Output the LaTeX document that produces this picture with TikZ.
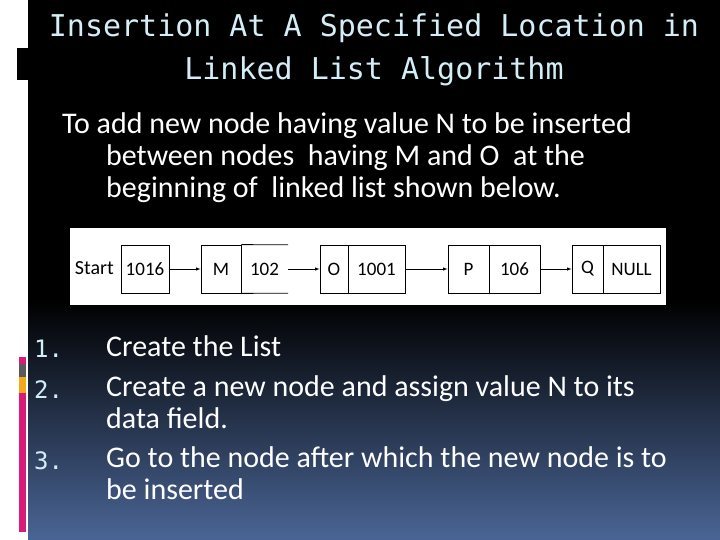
\documentclass[tikz,border=0pt]{standalone}
\usepackage{fontspec}
\setmainfont{Carlito}
\newfontfamily\titlefont{DejaVu Sans Mono}
\usetikzlibrary{positioning}
\definecolor{slideblue}{HTML}{4A6595}
\definecolor{titleblue}{HTML}{D4EEF7}
\definecolor{barpink}{HTML}{D81B78}
\definecolor{bargray}{HTML}{5A5A5A}
\definecolor{barorange}{HTML}{F4A81C}
\begin{document}
\begin{tikzpicture}[x=1pt, y=-1pt,
    cell/.style={draw, thick, minimum height=48pt, inner sep=0pt, font=\fontsize{19}{19}\selectfont},
    body/.style={text=white, font=\fontsize{30}{32}\selectfont, align=left, anchor=north west, inner sep=0pt},
    num/.style={text=titleblue, font=\titlefont\fontsize{24}{26}\selectfont, anchor=north west, inner sep=0pt}]
    \useasboundingbox (0,0) rectangle (720,540);
    % background
    \fill[white] (0,0) rectangle (720,540);
    \fill[black] (28,0) rectangle (720,300);
    \shade[top color=black, bottom color=slideblue] (28,300) rectangle (720,540);
    \fill[black] (17,48) rectangle (28,80);
    \fill[barpink] (19,357) rectangle (26,364);
    \fill[bargray] (19,364) rectangle (26,377);
    \fill[barorange] (19,377) rectangle (26,393);
    \fill[barpink] (19,393) rectangle (26,532);

    % title
    \node[text=titleblue, font=\titlefont\fontsize{30}{43}\selectfont, align=center] (title) at (374,50)
        {Insertion At A Specified Location in\\Linked List Algorithm};

    % intro text
    \node[body] (intro) at (62,112) {To add new node having value N to be inserted\\
        \hspace*{44pt}between nodes\ \ having M and O\ \ at the\\
        \hspace*{44pt}beginning of\ \ linked list shown below.};

    % list picture
    \fill[white] (70,228) rectangle (666,305);
    \node[font=\fontsize{20}{20}\selectfont, anchor=east, inner sep=2pt] (start) at (116,268) {Start};
    \node[cell, minimum width=48pt] (head) at (145,269) {1016};
    \node[cell, minimum width=40pt] (m) at (221,269) {M};
    \node[minimum height=48pt, minimum width=47pt, inner sep=0pt, font=\fontsize{19}{19}\selectfont] (mnext) at (264.5,269) {102};
    \draw[thick] (m.north east) -- (mnext.north east) (m.south east) -- (mnext.south east);
    \node[cell, minimum width=28pt] (o) at (334,269) {O};
    \node[cell, minimum width=57pt] (onext) at (376.5,269) {1001};
    \node[cell, minimum width=41pt] (p) at (468.5,269) {P};
    \node[cell, minimum width=51pt] (pnext) at (514.5,269) {106};
    \node[cell, minimum width=31pt] (q) at (587.5,269) {Q};
    \node[cell, minimum width=57pt] (qnext) at (631.5,269) {NULL};
    \draw[-latex, semithick] (head) -- (m);
    \draw[-latex, semithick] (mnext) -- (o);
    \draw[-latex, semithick] (onext) -- (p);
    \draw[-latex, semithick] (pnext) -- (q);

    % steps
    \node[num] (n1) at (34,340) {1.};
    \node[body] (s1) at (106,335) {Create the List};
    \node[num] (n2) at (34,380) {2.};
    \node[body] (s2) at (106,375) {Create a new node and assign value N to its\\data field.};
    \node[num] (n3) at (34,451) {3.};
    \node[body] (s3) at (106,446) {Go to the node after which the new node is to\\be inserted};
\end{tikzpicture}
\end{document}
